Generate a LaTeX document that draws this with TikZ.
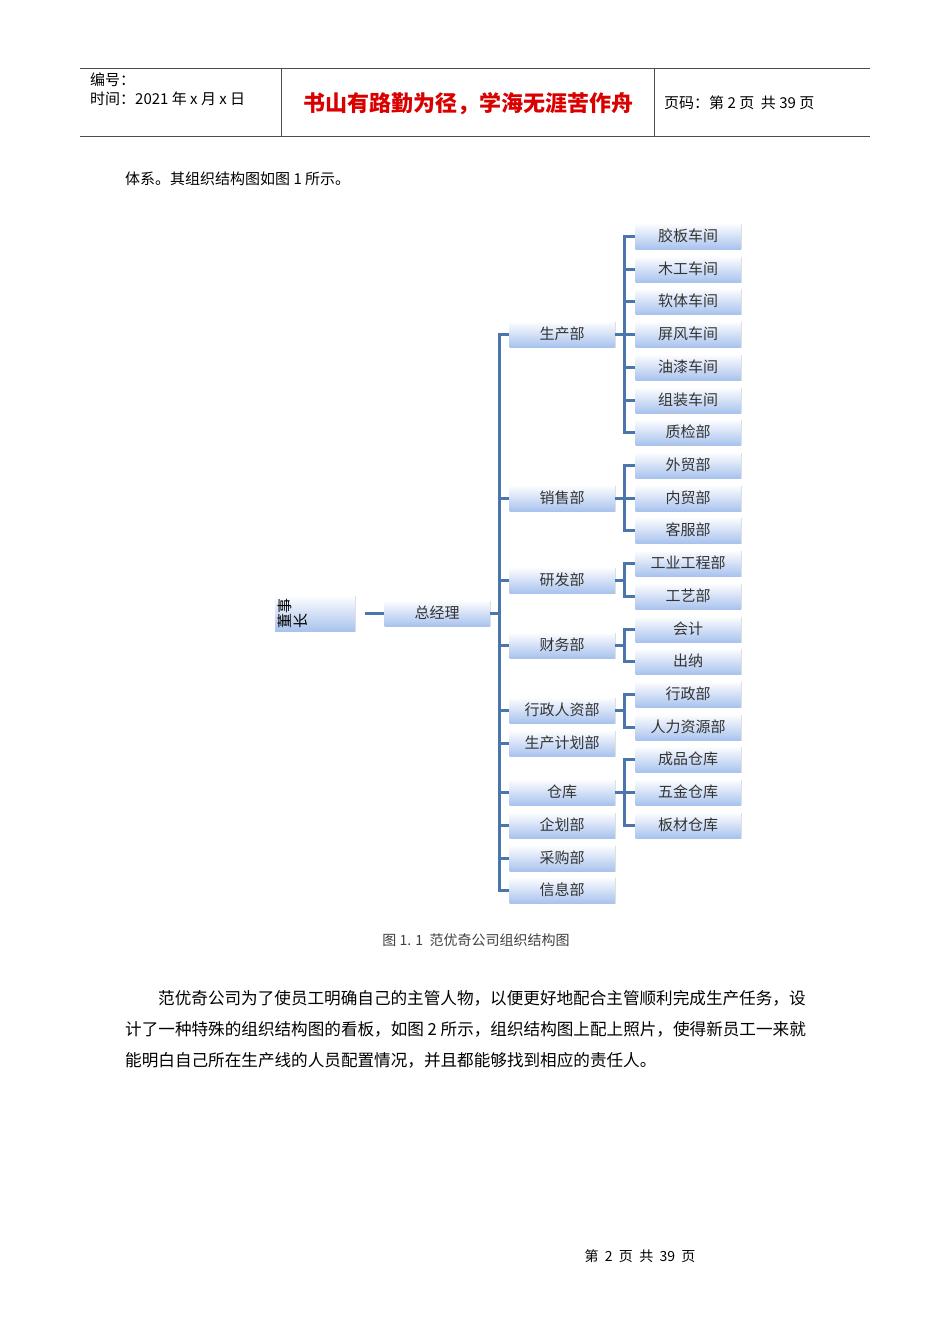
\documentclass[tikz,border=0pt]{standalone}
\usepackage{fontspec}
\setmainfont{Liberation Serif}
\newfontfamily\cjk{Noto Sans CJK SC}
\usetikzlibrary{shadows}
\definecolor{lnc}{HTML}{4A76AC}
\definecolor{bxb}{HTML}{A9C3EE}
\tikzset{
 bx/.style={minimum width=105pt,minimum height=26pt,inner sep=0pt,top color=white,bottom color=bxb,draw=none,
   drop shadow={shadow xshift=1pt,shadow yshift=-1pt,opacity=0.25},font=\cjk\fontsize{15}{15}\selectfont,text=black!80},
 ln/.style={lnc,line width=3pt},
 tx/.style={anchor=west,inner sep=0pt,font=\cjk\fontsize{15}{15}\selectfont},
 px/.style={anchor=west,inner sep=0pt,font=\cjk\fontsize{16.6}{16}\selectfont}
}
\begin{document}
\begin{tikzpicture}[x=1pt,y=-1pt]
\fill[white] (0,0) rectangle (950,1344);
\useasboundingbox (0,0) rectangle (950,1344);
% header
\draw[black!70,line width=0.8pt] (80,68)--(870,68) (80,136)--(870,136) (281,68)--(281,136) (654,68)--(654,136);
\node[tx] (h1) at (90,80) {编号：};
\node[tx] (h2) at (90,99) {时间：2021 年 x 月 x 日};
\node[anchor=center,font=\cjk\bfseries\fontsize{22}{22}\selectfont,text=red!85!black] (h3) at (468,104) {书山有路勤为径，学海无涯苦作舟};
\node[tx] (h4) at (664,103) {页码：第 2 页\ \ 共 39 页};
\node[tx] (b1) at (125,179) {体系。其组织结构图如图 1 所示。};
% chart
\node[bx,minimum width=80pt,minimum height=36pt] (dsz) at (315,613) {};
\node[rotate=90,align=left,font=\cjk\fontsize{15}{16}\selectfont,inner sep=0pt] (dszt) at (293,613) {董事\\长};
\node[bx] (zjl) at (437,613) {总经理};
\foreach \n/\t/\y in {m1/生产部/334,m2/销售部/498,m3/研发部/580,m4/财务部/645,m5/行政人资部/710,m6/生产计划部/743,m7/仓库/792,m8/企划部/825,m9/采购部/858,m10/信息部/890}
  {\node[bx] (\n) at (562,\y) {\t};}
\foreach \n/\t/\y in {l1/胶板车间/236,l2/木工车间/269,l3/软体车间/301,l4/屏风车间/334,l5/油漆车间/367,l6/组装车间/400,l7/质检部/432,l8/外贸部/465,l9/内贸部/498,l10/客服部/530,l11/工业工程部/563,l12/工艺部/596,l13/会计/629,l14/出纳/661,l15/行政部/694,l16/人力资源部/727,l17/成品仓库/759,l18/五金仓库/792,l19/板材仓库/825}
  {\node[bx] (\n) at (688,\y) {\t};}
\draw[ln] ([xshift=10pt]dsz.east)--(zjl.west);
\draw[ln] (zjl.east)--++(10,0);
\draw[ln] ([xshift=-10pt]m1.west)--([xshift=-10pt]m10.west);
\foreach \n in {m1,m2,m3,m4,m5,m6,m7,m8,m9,m10} \draw[ln] (\n.west)--++(-11.5,0);
\foreach \p/\a/\b in {m1/l1/l7,m2/l8/l10,m3/l11/l12,m4/l13/l14,m5/l15/l16,m7/l17/l19}{
  \draw[ln] (\p.east)--++(10,0);
  \draw[ln] ([xshift=-11pt]\a.west)--([xshift=-11pt]\b.west);
}
\foreach \n in {l1,l2,l3,l4,l5,l6,l7,l8,l9,l10,l11,l12,l13,l14,l15,l16,l17,l18,l19} \draw[ln] (\n.west)--++(-12.5,0);
% text
\node[font=\fontsize{14}{14}\selectfont\cjk,text=black!75] (cap) at (476,940) {图 1. 1\ \ 范优奇公司组织结构图};
\node[px] (p1) at (158,998) {范优奇公司为了使员工明确自己的主管人物，以便更好地配合主管顺利完成生产任务，设};
\node[px] (p2) at (125,1029) {计了一种特殊的组织结构图的看板，如图 2 所示，组织结构图上配上照片，使得新员工一来就};
\node[px] (p3) at (125,1060) {能明白自己所在生产线的人员配置情况，并且都能够找到相应的责任人。};
\node[font=\cjk\fontsize{14}{14}\selectfont] (ft) at (640,1256) {第\ \ 2\ \ 页\ \ 共\ \ 39\ \ 页};
\end{tikzpicture}
\end{document}
